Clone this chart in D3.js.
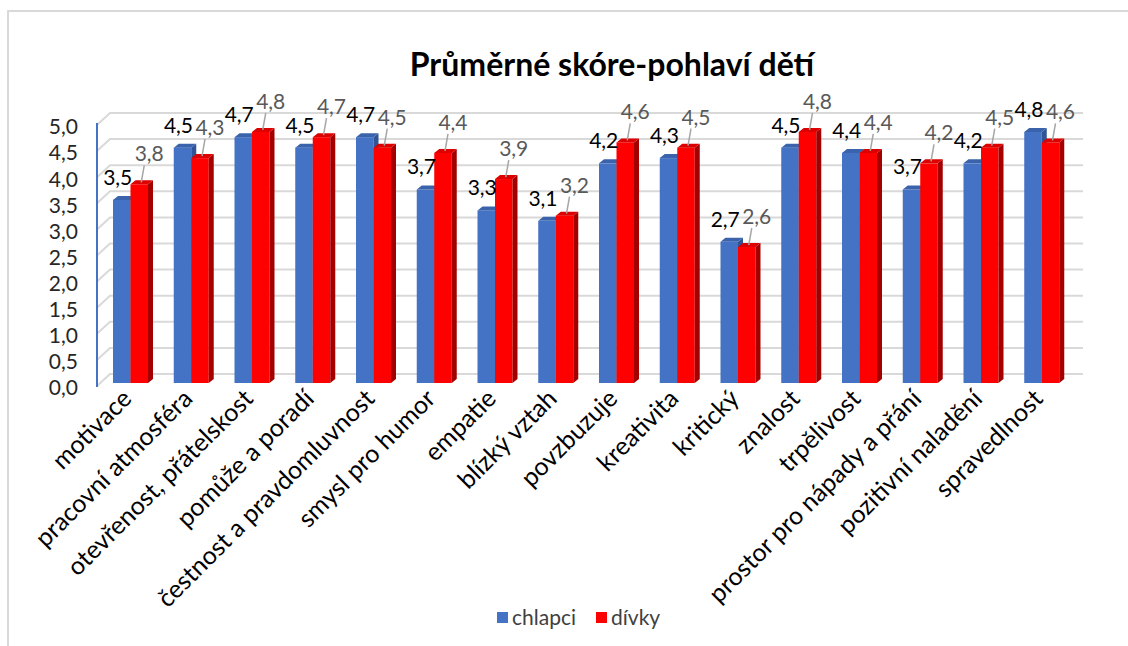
<!DOCTYPE html>
<html>
<head>
<meta charset="utf-8">
<script src="https://cdn.jsdelivr.net/npm/d3@7"></script>
<style>
  body { margin: 0; background: #fff; }
  svg text { font-family: Lato, "Open Sans", sans-serif; }
</style>
</head>
<body>
<div id="container"></div>
<script>
// Data
const categories = ['motivace', 'pracovní atmosféra', 'otevřenost, přátelskost', 'pomůže a poradí',
    'čestnost a pravdomluvnost', 'smysl pro humor', 'empatie', 'blízký vztah', 'povzbuzuje',
    'kreativita', 'kritický', 'znalost', 'trpělivost', 'prostor pro nápady a přání',
    'pozitivní naladění', 'spravedlnost'];
const chlapci = [3.5, 4.5, 4.7, 4.5, 4.7, 3.7, 3.3, 3.1, 4.2, 4.3, 2.7, 4.5, 4.4, 3.7, 4.2, 4.8];
const divky = [3.8, 4.3, 4.8, 4.7, 4.5, 4.4, 3.9, 3.2, 4.6, 4.5, 2.6, 4.8, 4.4, 4.2, 4.5, 4.6];
const seriesNames = ['chlapci', 'dívky'];
const yTicks = [0, 0.5, 1, 1.5, 2, 2.5, 3, 3.5, 4, 4.5, 5];

const width = 1128;
const height = 646;

const svg = d3.select('#container').append('svg')
    .attr('width', width)
    .attr('height', height);

// chart frame (runs off the right and bottom edge like in the screenshot)
svg.append('rect')
    .attr('x', 8).attr('y', 11)
    .attr('width', 1140).attr('height', 660)
    .attr('fill', '#fff')
    .attr('stroke', '#d9d9d9')
    .attr('stroke-width', 2);

const fmt = d3.formatLocale({decimal: ',', thousands: ' ', grouping: [3], currency: ['', '']}).format('.1f');

// scales
const x = d3.scaleBand().domain(categories).range([100, 1072]);
const yFront = d3.scaleLinear().domain([0, 5]).range([386, 125]);
const yBack = d3.scaleLinear().domain([0, 5]).range([374, 113]);
const yBar = d3.scaleLinear().domain([0, 5]).range([383, 121.5]);
const wallDx = 13;
const backRight = 1083;

const colors = [
    {front: '#4472c4', top: '#3a63ab', side: '#2f5597', label: '#000000'},
    {front: '#ff0000', top: '#dc0000', side: '#a50000', label: '#595959'}
];

// gridlines: side wall diagonal + back wall
svg.append('g').selectAll('polyline')
    .data(yTicks)
    .enter().append('polyline')
    .attr('points', d => `97,${yFront(d)} ${97 + wallDx},${yBack(d)} ${backRight},${yBack(d)}`)
    .attr('fill', 'none')
    .attr('stroke', '#d9d9d9')
    .attr('stroke-width', 2);

// value axis line
svg.append('line')
    .attr('x1', 97).attr('x2', 97)
    .attr('y1', yFront(5) - 2).attr('y2', yFront(0) + 1)
    .attr('stroke', '#4472c4')
    .attr('stroke-width', 2);

// tick labels
svg.append('g').selectAll('text')
    .data(yTicks)
    .enter().append('text')
    .attr('x', 78)
    .attr('y', d => yFront(d) + 2)
    .attr('dy', '0.35em')
    .attr('text-anchor', 'end')
    .attr('font-size', 21)
    .attr('fill', '#262626')
    .text(d => fmt(d));

// bars
const barW = 17.5;
const offset = 13;
const dX = 5, dY = -4;
const base = yBar(0);

const rows = [];
categories.forEach((c, i) => {
    [chlapci[i], divky[i]].forEach((v, s) => rows.push({cat: c, value: v, s: s}));
});

const bars = svg.append('g').selectAll('g')
    .data(rows)
    .enter().append('g');

bars.each(function(d) {
    const g = d3.select(this);
    const x0 = x(d.cat) + offset + d.s * barW;
    const top = yBar(d.value);
    const col = colors[d.s];
    g.append('rect')
        .attr('x', x0).attr('y', top)
        .attr('width', barW).attr('height', base - top)
        .attr('fill', col.front);
    g.append('polygon')
        .attr('points', [[x0 + barW, top], [x0 + barW + dX, top + dY], [x0 + barW + dX, base + dY], [x0 + barW, base]].join(' '))
        .attr('fill', col.side);
    g.append('polygon')
        .attr('points', [[x0, top], [x0 + dX, top + dY], [x0 + barW + dX, top + dY], [x0 + barW, top]].join(' '))
        .attr('fill', col.top);
});

// data labels
rows.forEach(d => {
    const x0 = x(d.cat) + offset + d.s * barW;
    const top = yBar(d.value);
    const cx = x0 + barW / 2;
    if (d.s === 0) {
        svg.append('text')
            .attr('x', cx - 4)
            .attr('y', top - 15)
            .attr('text-anchor', 'middle')
            .attr('font-size', 21)
            .attr('fill', colors[0].label)
            .text(fmt(d.value));
    } else {
        svg.append('line')
            .attr('x1', cx + 5).attr('y1', top - 19)
            .attr('x2', cx + 2).attr('y2', top - 2)
            .attr('stroke', '#a6a6a6')
            .attr('stroke-width', 1.5);
        svg.append('text')
            .attr('x', cx + 10)
            .attr('y', top - 23)
            .attr('text-anchor', 'middle')
            .attr('font-size', 21)
            .attr('fill', colors[1].label)
            .text(fmt(d.value));
    }
});

// category labels
svg.append('g').selectAll('text')
    .data(categories)
    .enter().append('text')
    .attr('transform', d => `translate(${x(d) + 27},${394}) rotate(-45)`)
    .attr('text-anchor', 'end')
    .attr('dy', '0.35em')
    .attr('font-size', 25)
    .attr('fill', '#000')
    .text(d => d);

// title
svg.append('text')
    .attr('x', 612)
    .attr('y', 76)
    .attr('text-anchor', 'middle')
    .attr('font-size', 32)
    .attr('font-weight', 'bold')
    .attr('fill', '#000')
    .text('Průměrné skóre-pohlaví dětí');

// legend
const legend = svg.append('g');
const legendX = [497, 596];
legend.selectAll('rect')
    .data(seriesNames)
    .enter().append('rect')
    .attr('x', (d, i) => legendX[i])
    .attr('y', 612)
    .attr('width', 11)
    .attr('height', 11)
    .attr('fill', (d, i) => colors[i].front);

legend.selectAll('text')
    .data(seriesNames)
    .enter().append('text')
    .attr('x', (d, i) => legendX[i] + 15)
    .attr('y', 625)
    .attr('font-size', 21)
    .attr('fill', '#404040')
    .text(d => d);
</script>
</body>
</html>
